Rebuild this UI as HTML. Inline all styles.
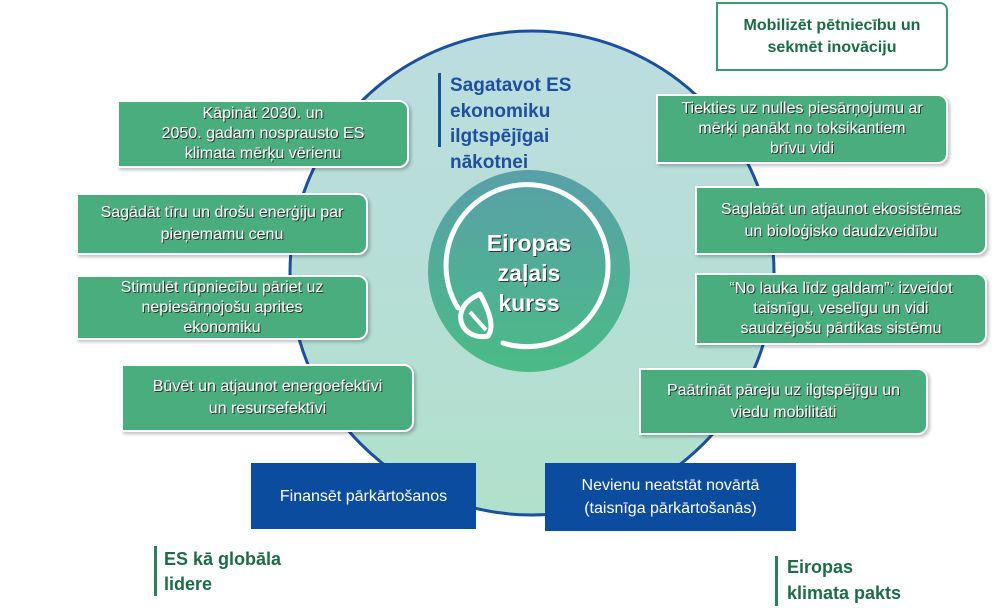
<!DOCTYPE html>
<html><head><meta charset="utf-8"><style>
body{margin:0;width:996px;height:616px;background:#fff;position:relative;overflow:hidden;font-family:"Liberation Sans",Arial,sans-serif}
.b{position:absolute;background:#49ad7d;border:2px solid #fff;box-shadow:2px 2px 3px rgba(0,0,0,.25);color:#fff;text-align:center;font-size:16px;line-height:22px;display:flex;align-items:center;justify-content:center;border-radius:0 10px 10px 0;text-shadow:1px 1px 0 #333;box-sizing:border-box;padding:0 4px}
.b3{line-height:20px}
.bl{position:absolute;background:#0c4c9e;color:#fff;text-align:center;font-size:16px;line-height:23px;display:flex;align-items:center;justify-content:center}
.t{position:absolute;font-weight:bold;font-size:19px;line-height:25.5px}
</style></head><body>
<svg width="996" height="616" style="position:absolute;left:0;top:0">
<defs>
<linearGradient id="g1" x1="0" y1="0" x2="0" y2="1"><stop offset="0" stop-color="#bcdde0"/><stop offset="1" stop-color="#b1e0cc"/></linearGradient>
<linearGradient id="g2" x1="0" y1="0" x2="0" y2="1"><stop offset="0" stop-color="#58a0a8"/><stop offset="1" stop-color="#4bbb86"/></linearGradient>
</defs>
<circle cx="532" cy="273" r="242" fill="url(#g1)" stroke="#1c4f9c" stroke-width="3"/>
<circle cx="529" cy="271" r="101" fill="url(#g2)"/>
<path d="M503 343 A81 81 0 1 0 458 308" fill="none" stroke="#fff" stroke-width="5" stroke-linecap="round"/>
<path d="M488 336 C470 340 456 325 462 310 C466 300 476 296 480 294 C486 305 496 325 488 336 Z" fill="none" stroke="#fff" stroke-width="5" stroke-linejoin="round"/>
<path d="M470 312 L486 330" stroke="#fff" stroke-width="4"/>
</svg>
<div style="position:absolute;left:438px;top:73px;width:3px;height:74px;background:#1c4f9c"></div>
<div class="t" style="left:450px;top:73px;color:#1f4f9f">Sagatavot ES<br>ekonomiku<br>ilgtspējīgai<br>nākotnei</div>
<div style="position:absolute;left:430px;top:228px;width:198px;text-align:center;color:#fff;font-weight:bold;font-size:23px;line-height:30px;text-shadow:1px 1px 0 #333">Eiropas<br>zaļais<br>kurss</div>

<div class="b b3" style="left:117px;top:100px;width:292px;height:68px">Kāpināt 2030. un<br>2050. gadam nosprausto ES<br>klimata mērķu vērienu</div>
<div class="b" style="left:76px;top:193px;width:292px;height:62px">Sagādāt tīru un drošu enerģiju par<br>pieņemamu cenu</div>
<div class="b b3" style="left:76px;top:275px;width:292px;height:65px">Stimulēt rūpniecību pāriet uz<br>nepiesārņojošu aprites<br>ekonomiku</div>
<div class="b" style="left:121px;top:364px;width:293px;height:68px">Būvēt un atjaunot energoefektīvi<br>un resursefektīvi</div>

<div style="position:absolute;left:716px;top:2px;width:232px;height:69px;border:2px solid #3c9a70;border-radius:0 8px 8px 0;box-sizing:border-box;display:flex;align-items:center;justify-content:center;text-align:center;color:#1b6b45;font-weight:bold;font-size:16px;line-height:22px">Mobilizēt pētniecību un<br>sekmēt inovāciju</div>
<div class="b b3" style="left:656px;top:94px;width:292px;height:70px">Tiekties uz nulles piesārņojumu ar<br>mērķi panākt no toksikantiem<br>brīvu vidi</div>
<div class="b" style="left:695px;top:186px;width:292px;height:69px">Saglabāt un atjaunot ekosistēmas<br>un bioloģisko daudzveidību</div>
<div class="b b3" style="left:695px;top:273px;width:292px;height:72px">“No lauka līdz galdam”: izveidot<br>taisnīgu, veselīgu un vidi<br>saudzējošu pārtikas sistēmu</div>
<div class="b" style="left:639px;top:368px;width:289px;height:67px">Paātrināt pāreju uz ilgtspējīgu un<br>viedu mobilitāti</div>

<div class="bl" style="left:251px;top:463px;width:225px;height:66px">Finansēt pārkārtošanos</div>
<div class="bl" style="left:545px;top:463px;width:251px;height:68px">Nevienu neatstāt novārtā<br>(taisnīga pārkārtošanās)</div>

<div style="position:absolute;left:154px;top:546px;width:3px;height:50px;background:#2e7d5b"></div>
<div class="t" style="left:164px;top:547px;color:#1f6b48;font-size:18px;line-height:25px">ES kā globāla<br>lidere</div>
<div style="position:absolute;left:775px;top:556px;width:3px;height:50px;background:#2e7d5b"></div>
<div class="t" style="left:787px;top:554px;color:#1f6b48;font-size:18px;line-height:26px">Eiropas<br>klimata pakts</div>
</body></html>
